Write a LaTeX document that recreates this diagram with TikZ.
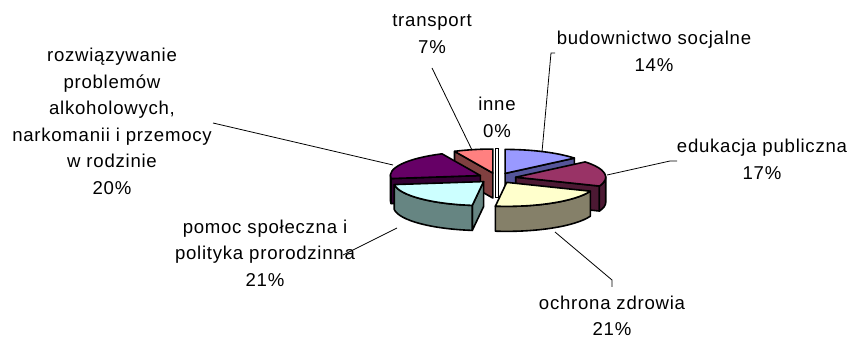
\documentclass[tikz,border=0pt]{standalone}
\usepackage{fontspec}
\setmainfont{Liberation Sans}[LetterSpace=4]
\usetikzlibrary{calc}
\definecolor{budT}{HTML}{9999FF}\definecolor{budS}{HTML}{55559A}
\definecolor{eduT}{HTML}{993366}\definecolor{eduS}{HTML}{4C1933}
\definecolor{ochT}{HTML}{FFFFCC}\definecolor{ochS}{HTML}{858069}
\definecolor{pomT}{HTML}{CCFFFF}\definecolor{pomS}{HTML}{668582}
\definecolor{rozT}{HTML}{660066}\definecolor{rozS}{HTML}{330033}
\definecolor{traT}{HTML}{FF8080}\definecolor{traS}{HTML}{804040}
\begin{document}
\begin{tikzpicture}[x=1pt,y=1pt,
  lbl/.style={font=\fontsize{18.6}{26.5}\selectfont, align=center, inner sep=0pt, text=black},
  face/.style={draw=black, line width=1.6pt, line join=round},
  lead/.style={draw=black, line width=0.8pt},
  ell/.style={x radius=90, y radius=24}]
\useasboundingbox (0,0) rectangle (851,340);
% apexes of the exploded slices
\coordinate (tA) at ({497+19*cos(102.6)},{162+5.067*sin(102.6)});
\coordinate (iA) at ({497+19*cos(90)},{162+5.067*sin(90)});
\coordinate (bA) at ({497+19*cos(64.8)},{162+5.067*sin(64.8)});
\coordinate (rA) at ({497+19*cos(151.2)},{162+5.067*sin(151.2)});
\coordinate (eA) at ({497+19*cos(9)},{162+5.067*sin(9)});
\coordinate (pA) at ({497+19*cos(-135)},{162+5.067*sin(-135)});
\coordinate (oA) at ({497+19*cos(-59.4)},{162+5.067*sin(-59.4)});
% transport
\path[face, fill=traS] (tA) -- ++(115.2:90 and 24) -- ++(0,-25) -- ($(tA)+(0,-25)$) -- cycle;
\path[face, fill=traT] (tA) -- ++(90:90 and 24) arc[start angle=90, end angle=115.2, ell] -- cycle;
% inne
\path[draw=black, line width=1pt, fill=white] ($(iA)+(-1.5,24)$) rectangle ($(iA)+(1.5,-25)$);
% budownictwo
\path[face, fill=budS] (bA) -- ++(39.6:90 and 24) -- ++(0,-25) -- ($(bA)+(0,-25)$) -- cycle;
\path[face, fill=budT] (bA) -- ++(39.6:90 and 24) arc[start angle=39.6, end angle=90, ell] -- cycle;
% rozwiazywanie
\path[face, fill=rozS] (rA) -- ++(187.2:90 and 24) -- ++(0,-25) -- ($(rA)+(0,-25)$) -- cycle;
\path[face, fill=rozS] ($(rA)+(180:90 and 24)$) arc[start angle=180, end angle=187.2, ell] -- ++(0,-25) arc[start angle=187.2, end angle=180, ell] -- cycle;
\path[face, fill=rozT] (rA) -- ++(115.2:90 and 24) arc[start angle=115.2, end angle=187.2, ell] -- cycle;
% edukacja
\path[face, fill=eduS] (eA) -- ++(-21.6:90 and 24) -- ++(0,-25) -- ($(eA)+(0,-25)$) -- cycle;
\path[face, fill=eduS] ($(eA)+(-21.6:90 and 24)$) arc[start angle=-21.6, end angle=0, ell] -- ++(0,-25) arc[start angle=0, end angle=-21.6, ell] -- cycle;
\path[face, fill=eduT] (eA) -- ++(-21.6:90 and 24) arc[start angle=-21.6, end angle=39.6, ell] -- cycle;
% pomoc
\path[face, fill=pomS] (pA) -- ++(-97.2:90 and 24) -- ++(0,-25) -- ($(pA)+(0,-25)$) -- cycle;
\path[face, fill=pomS] ($(pA)+(-172.8:90 and 24)$) arc[start angle=-172.8, end angle=-97.2, ell] -- ++(0,-25) arc[start angle=-97.2, end angle=-172.8, ell] -- cycle;
\path[face, fill=pomT] (pA) -- ++(-172.8:90 and 24) arc[start angle=-172.8, end angle=-97.2, ell] -- cycle;
% ochrona
\path[face, fill=ochS] ($(oA)+(-97.2:90 and 24)$) arc[start angle=-97.2, end angle=-21.6, ell] -- ++(0,-25) arc[start angle=-21.6, end angle=-97.2, ell] -- cycle;
\path[face, fill=ochT] (oA) -- ++(-97.2:90 and 24) arc[start angle=-97.2, end angle=-21.6, ell] -- cycle;
% labels
\node[lbl] (traLbl) at (432,306) {transport\\7\%};
\node[lbl] (inneLbl) at (497,222.5) {inne\\0\%};
\node[lbl] (budLbl) at (654,288.7) {budownictwo socjalne\\14\%};
\node[lbl] (eduLbl) at (762,180.5) {edukacja publiczna\\17\%};
\node[lbl] (ochLbl) at (612,24) {ochrona zdrowia\\21\%};
\node[lbl] (pomLbl) at (265,87) {pomoc społeczna i\\polityka prorodzinna\\21\%};
\node[lbl] (rozLbl) at (112,218.5) {rozwiązywanie\\problemów\\alkoholowych,\\narkomanii i przemocy\\w rodzinie\\20\%};
% leader ends
\coordinate (traL1) at (432,272); \coordinate (traL2) at (472,190);
\coordinate (budL0) at (555,287); \coordinate (budL1) at (551,287); \coordinate (budL2) at (542,188);
\coordinate (eduL0) at (677,179); \coordinate (eduL1) at (670,179); \coordinate (eduL2) at (607,165);
\coordinate (ochL0) at (612,53); \coordinate (ochL1) at (612,60); \coordinate (ochL2) at (555,108);
\coordinate (pomL1) at (343,85); \coordinate (pomL2) at (397,112);
\coordinate (rozL1) at (213,217); \coordinate (rozL2) at (393,175);
\draw[lead] (traL1) -- (traL2);
\draw[lead] (budL0) -- (budL1) -- (budL2);
\draw[lead] (eduL0) -- (eduL1) -- (eduL2);
\draw[lead] (ochL0) -- (ochL1) -- (ochL2);
\draw[lead] (pomL1) -- (pomL2);
\draw[lead] (rozL1) -- (rozL2);
\end{tikzpicture}
\end{document}
